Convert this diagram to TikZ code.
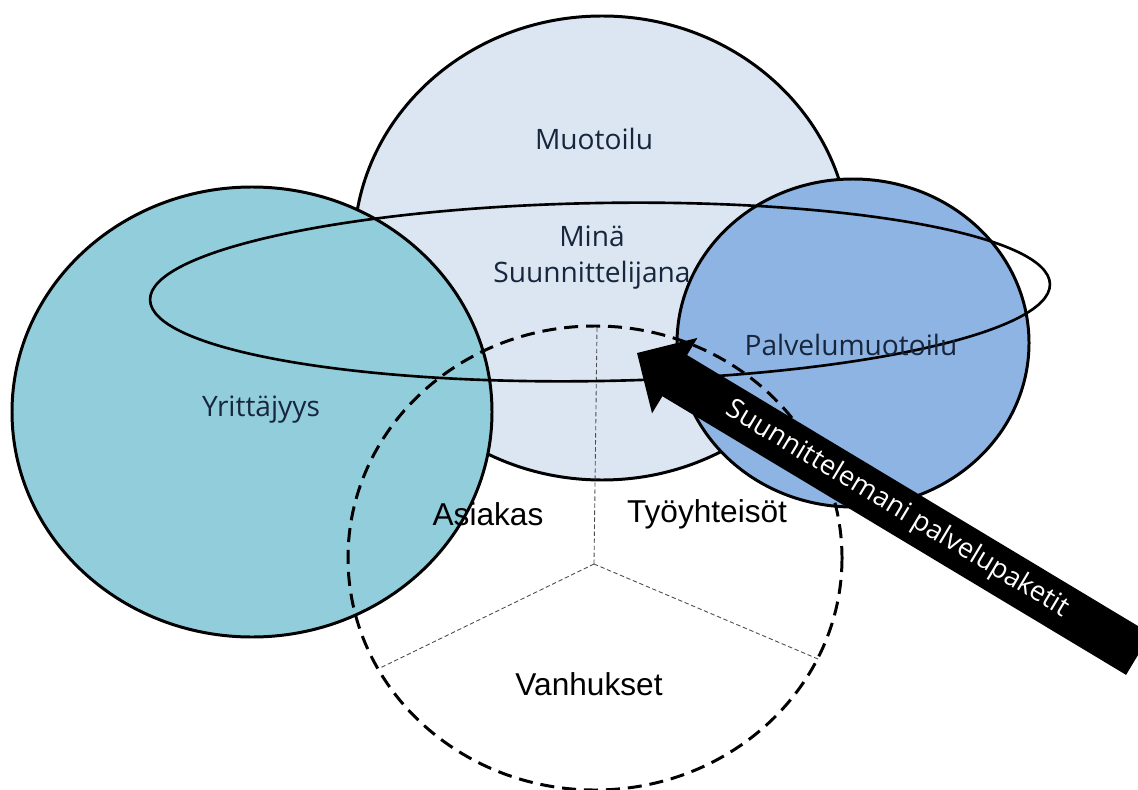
\documentclass[tikz,border=0pt]{standalone}
\usepackage{fontspec}
\setmainfont{Liberation Sans}
\newfontfamily\opensans{Open Sans}
\usetikzlibrary{calc}
\definecolor{muotoilu}{RGB}{220,230,242}
\definecolor{yritys}{RGB}{146,205,220}
\definecolor{palvelu}{RGB}{142,180,227}
\definecolor{navy}{RGB}{23,38,60}
\tikzset{
  outline/.style={draw=black, line width=1.7pt},
  lbl/.style={font=\opensans\fontsize{16}{20.5}\selectfont, text=navy, align=center},
  grp/.style={font=\fontsize{18}{22}\selectfont},
  sector/.style={black!70, line width=0.5pt, dash pattern=on 2.5pt off 1.5pt}
}

\begin{document}
\begin{tikzpicture}[x=0.02cm, y=-0.02cm]
\useasboundingbox (0,0) rectangle (1138,790);
\filldraw [outline, fill=muotoilu] (602,248) ellipse [x radius=248, y radius=232];
\filldraw [outline, fill=yritys] (252,412) ellipse [x radius=240, y radius=225];
\filldraw [outline, fill=palvelu] (853,343) ellipse [x radius=176, y radius=164];
% asiakasryhmat
\coordinate (hub) at (594,564);
\coordinate (s1) at (597,327);
\coordinate (s2) at (380,668);
\coordinate (s3) at (818,659);
\draw [sector] (hub) -- (s1) (hub) -- (s2) (hub) -- (s3);
\draw [line width=1.7pt, dash pattern=on 8pt off 4.5pt] (595,558) ellipse [x radius=247, y radius=232];
\draw [line width=1.5pt, rotate around={1:(600,292)}] (600,292) ellipse [x radius=450, y radius=89];
% nuoli
\coordinate (tip) at (637,353);
\coordinate (tail) at (1138,654);
\begin{scope}[shift={(tip)}, rotate=-31]
\fill (0,0) -- (44,-44) -- (44,-24) -- (585,-24) -- (585,24) -- (44,24) -- (44,44) -- cycle;
\end{scope}
\node [font=\opensans\fontsize{15.5}{18}\selectfont, text=white, rotate=-31] (paketit) at ($(tip)!0.52!(tail)$) {Suunnittelemani palvelupaketit};
% tekstit
\node [lbl] (muotoilu) at (594,139) {Muotoilu};
\node [lbl] (mina) at (592,258) {Minä\\Suunnittelijana};
\node [lbl] (yrittajyys) at (261,410) {Yrittäjyys};
\node [lbl] (palvelumuotoilu) at (851,345) {Palvelumuotoilu};
\node [grp] (asiakas) at (488,514) {Asiakas};
\node [grp] (tyoyhteisot) at (707,514) {Työyhteisöt};
\node [grp] (vanhukset) at (589,684) {Vanhukset};
\end{tikzpicture}
\end{document}
